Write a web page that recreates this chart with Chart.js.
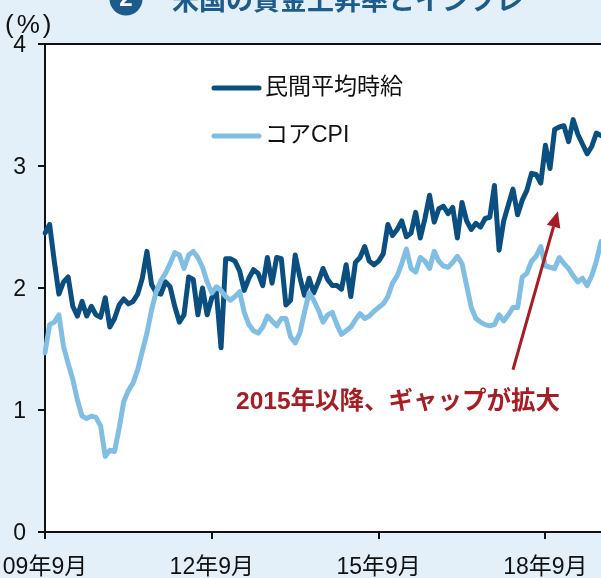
<!DOCTYPE html>
<html>
<head>
<meta charset="utf-8">
<script src="https://cdn.jsdelivr.net/npm/chart.js@4.4.0/dist/chart.umd.min.js"></script>
<style>
  html, body { margin: 0; padding: 0; background: #e3f0f9; }
  canvas { display: block; }
</style>
</head>
<body>
<canvas id="wageChart" width="601" height="578"></canvas>
<script>
const FONT = "'Liberation Sans', Arial, 'Noto Sans CJK JP', sans-serif";
const CJK = "'Noto Sans CJK JP', 'Liberation Sans', sans-serif";

// Monthly categories, Sep 2009 - Sep 2019
const months = [];
for (let i = 0; i < 121; i++) {
    const y = 2009 + Math.floor((8 + i) / 12);
    const m = (8 + i) % 12 + 1;
    months.push(String(y % 100).padStart(2, "0") + "年" + m + "月");
}
const xTickLabels = ["09年9月", "12年9月", "15年9月", "18年9月"];
const yTicks = [0, 1, 2, 3, 4];

// 民間平均時給 (y/y %)
const wages = [
    2.45, 2.52, 2.22, 1.95, 2.05, 2.09, 1.85, 1.77, 1.89, 1.77, 1.85, 1.78,
    1.76, 1.92, 1.68, 1.75, 1.86, 1.91, 1.87, 1.89, 1.95, 2.08, 2.30, 2.03,
    1.96, 1.95, 2.05, 2.01, 1.85, 1.72, 1.78, 2.09, 2.07, 1.78, 2.00, 1.78,
    1.92, 1.96, 1.51, 2.24, 2.24, 2.22, 2.14, 1.98, 2.08, 2.15, 2.12, 2.02,
    2.25, 2.04, 2.25, 2.24, 1.86, 1.90, 2.27, 2.09, 1.94, 2.08, 1.96, 2.05,
    2.16, 2.07, 2.02, 2.02, 1.99, 2.19, 1.93, 2.21, 2.25, 2.34, 2.22, 2.19,
    2.22, 2.28, 2.52, 2.43, 2.48, 2.55, 2.42, 2.45, 2.62, 2.41, 2.57, 2.76,
    2.54, 2.65, 2.67, 2.61, 2.66, 2.41, 2.70, 2.55, 2.48, 2.53, 2.50, 2.57,
    2.58, 2.84, 2.31, 2.55, 2.68, 2.81, 2.60, 2.72, 2.80, 2.94, 2.93, 2.86,
    3.17, 2.98, 3.30, 3.32, 3.33, 3.20, 3.38, 3.26, 3.18, 3.10, 3.16, 3.27,
    3.25
];

// コアCPI (y/y %)
const coreCpi = [
    1.47, 1.70, 1.72, 1.78, 1.52, 1.38, 1.25, 1.08, 0.95, 0.93, 0.95, 0.94,
    0.87, 0.62, 0.67, 0.66, 0.85, 1.07, 1.16, 1.22, 1.33, 1.48, 1.63, 1.82,
    1.97, 2.06, 2.12, 2.20, 2.29, 2.27, 2.16, 2.27, 2.30, 2.25, 2.17, 2.05,
    1.96, 2.01, 1.98, 1.93, 1.90, 1.93, 1.97, 1.80, 1.70, 1.65, 1.63, 1.68,
    1.77, 1.73, 1.69, 1.75, 1.75, 1.60, 1.55, 1.63, 1.80, 1.96, 1.90, 1.82,
    1.72, 1.78, 1.80, 1.70, 1.62, 1.65, 1.68, 1.74, 1.79, 1.75, 1.77, 1.81,
    1.84, 1.87, 1.93, 2.04, 2.10, 2.20, 2.32, 2.16, 2.13, 2.25, 2.22, 2.16,
    2.30, 2.22, 2.18, 2.17, 2.21, 2.26, 2.20, 2.02, 1.84, 1.75, 1.72, 1.70,
    1.69, 1.70, 1.78, 1.73, 1.78, 1.84, 1.84, 2.09, 2.12, 2.22, 2.26, 2.34,
    2.18, 2.17, 2.16, 2.25, 2.20, 2.16, 2.10, 2.05, 2.08, 2.02, 2.10, 2.22,
    2.38
];

// annotation anchors in data units: [month index, %]
const arrowFrom = [101.0, 1.33];
const arrowTo = [110.7, 2.63];
const noteAt = [76.2, 1.06];
const noteText = "2015年以降、ギャップが拡大";
const titleText = "米国の賃金上昇率とインフレ";

const DARK = "#0b4f80";
const LIGHT = "#80bee3";
const RED = "#a71d24";

const decor = {
    id: "decor",
    beforeDraw(chart) {
        const { ctx, chartArea: a } = chart;
        ctx.save();
        ctx.fillStyle = "#e3f0f9";
        ctx.fillRect(0, 0, chart.width, chart.height);
        ctx.fillStyle = "#ffffff";
        ctx.fillRect(a.left, a.top, a.right - a.left, a.bottom - a.top);
        ctx.restore();
    },
    afterDatasetsDraw(chart) {
        const { ctx, chartArea: a, scales: { x, y } } = chart;
        ctx.save();

        // legend
        ctx.lineCap = "round";
        ctx.lineWidth = 5;
        ctx.font = "23px " + FONT;
        ctx.textBaseline = "middle";
        ctx.fillStyle = "#111";
        chart.data.datasets.forEach((ds, i) => {
            const ly = a.top + 44 + i * 48;
            ctx.strokeStyle = ds.borderColor;
            ctx.beginPath();
            ctx.moveTo(a.left + 169, ly);
            ctx.lineTo(a.left + 214, ly);
            ctx.stroke();
            ctx.fillText(ds.label, a.left + 220, ly);
        });

        // arrow
        const x0 = x.getPixelForValue(arrowFrom[0]), y0 = y.getPixelForValue(arrowFrom[1]);
        const x1 = x.getPixelForValue(arrowTo[0]), y1 = y.getPixelForValue(arrowTo[1]);
        const ang = Math.atan2(y1 - y0, x1 - x0);
        const head = 16, half = 7;
        ctx.strokeStyle = RED;
        ctx.fillStyle = RED;
        ctx.lineWidth = 3;
        ctx.lineCap = "butt";
        ctx.beginPath();
        ctx.moveTo(x0, y0);
        ctx.lineTo(x1 - Math.cos(ang) * head, y1 - Math.sin(ang) * head);
        ctx.stroke();
        ctx.beginPath();
        ctx.moveTo(x1, y1);
        ctx.lineTo(x1 - Math.cos(ang) * head - Math.sin(ang) * half, y1 - Math.sin(ang) * head + Math.cos(ang) * half);
        ctx.lineTo(x1 - Math.cos(ang) * head + Math.sin(ang) * half, y1 - Math.sin(ang) * head - Math.cos(ang) * half);
        ctx.closePath();
        ctx.fill();

        // note
        ctx.font = "bold 24.5px " + FONT;
        ctx.textAlign = "center";
        ctx.fillText(noteText, x.getPixelForValue(noteAt[0]), y.getPixelForValue(noteAt[1]));
        ctx.restore();
    },
    afterDraw(chart) {
        const { ctx, chartArea: a } = chart;
        ctx.save();
        // top frame line
        ctx.strokeStyle = "#111";
        ctx.lineWidth = 2;
        ctx.beginPath();
        ctx.moveTo(a.left, a.top);
        ctx.lineTo(a.right, a.top);
        ctx.stroke();

        // unit
        ctx.fillStyle = "#111";
        ctx.font = "26px " + FONT;
        ctx.letterSpacing = "3px";
        ctx.textBaseline = "middle";
        ctx.fillText("(%)", 5, 26);
        ctx.letterSpacing = "0px";

        // title (cut off at top)
        ctx.fillStyle = "#1d5b8c";
        ctx.beginPath();
        ctx.arc(126, -1, 16.5, 0, Math.PI * 2);
        ctx.fill();
        ctx.fillStyle = "#fff";
        ctx.font = "bold 24px " + FONT;
        ctx.textAlign = "center";
        ctx.fillText("2", 126, -1);
        ctx.fillStyle = "#1d5b8c";
        ctx.font = "bold 27px " + CJK;
        ctx.textAlign = "left";
        ctx.fillText(titleText, 172, 0);
        ctx.restore();
    }
};

new Chart(document.getElementById("wageChart"), {
    type: "line",
    data: {
        labels: months,
        datasets: [
            { label: "民間平均時給", data: wages, borderColor: DARK, order: 2 },
            { label: "コアCPI", data: coreCpi, borderColor: LIGHT, order: 1 },
        ],
    },
    options: {
        responsive: false,
        animation: false,
        layout: { padding: { top: 44, right: 0, left: 0, bottom: 0 } },
        elements: {
            line: { borderWidth: 5, tension: 0, borderJoinStyle: "round", borderCapStyle: "round" },
            point: { radius: 0 },
        },
        plugins: { legend: { display: false }, tooltip: { enabled: false } },
        scales: {
            x: {
                afterFit: s => { s.height = 46; s.paddingLeft = 0; s.paddingRight = 0; },
                grid: {
                    drawOnChartArea: false,
                    tickLength: 7,
                    lineWidth: 2,
                    color: c => xTickLabels.includes(months[c.index]) ? "#111" : "rgba(0,0,0,0)",
                },
                border: { color: "#111", width: 2 },
                ticks: {
                    autoSkip: false,
                    maxRotation: 0,
                    minRotation: 0,
                    padding: 15,
                    color: "#111",
                    font: { size: 23, family: FONT },
                    callback: (v, i) => xTickLabels.includes(months[i]) ? months[i] : "",
                },
            },
            y: {
                min: yTicks[0],
                max: yTicks[yTicks.length - 1],
                afterFit: s => { s.width = 45; s.paddingTop = 0; s.paddingBottom = 0; },
                afterBuildTicks: s => { s.ticks = yTicks.map(v => ({ value: v })); },
                grid: { drawOnChartArea: false, tickLength: 7, lineWidth: 2, color: "#111" },
                border: { color: "#111", width: 2 },
                ticks: {
                    padding: 12,
                    labelOffset: 2,
                    color: "#111",
                    font: { size: 23, family: FONT },
                },
            },
        },
    },
    plugins: [decor],
});
</script>
</body>
</html>
